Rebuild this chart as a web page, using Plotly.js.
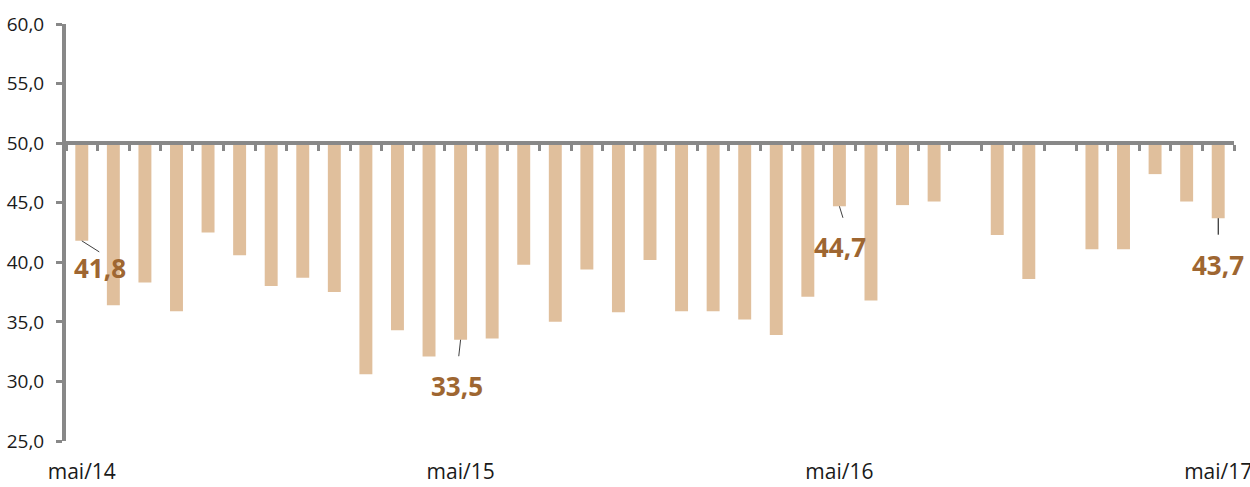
<!DOCTYPE html>
<html>
<head>
<meta charset="utf-8">
<script src="https://cdn.plot.ly/plotly-3.0.1.min.js"></script>
<style>html,body{margin:0;padding:0;background:#fff;}#chart{width:1250px;height:487px;}</style>
</head>
<body>
<div id="chart"></div>
<script>
// Categories (months)
const months = [
  'mai/14','jun/14','jul/14','ago/14','set/14','out/14','nov/14','dez/14',
  'jan/15','fev/15','mar/15','abr/15','mai/15','jun/15','jul/15','ago/15','set/15','out/15','nov/15','dez/15',
  'jan/16','fev/16','mar/16','abr/16','mai/16','jun/16','jul/16','ago/16','set/16','out/16','nov/16','dez/16',
  'jan/17','fev/17','mar/17','abr/17','mai/17'
];
// Index values
const values = [
  41.8, 36.4, 38.3, 35.9, 42.5, 40.6, 38.0, 38.7,
  37.5, 30.6, 34.3, 32.1, 33.5, 33.6, 39.8, 35.0, 39.4, 35.8, 40.2, 35.9,
  35.9, 35.2, 33.9, 37.1, 44.7, 36.8, 44.8, 45.1, null, 42.3, 38.6, null,
  41.1, 41.1, 47.4, 45.1, 43.7
];
const baseline = 50;
// Bottom axis labels
const labelMonths = ['mai/14','mai/15','mai/16','mai/17'];
// Highlighted values
const highlighted = ['mai/14','mai/15','mai/16','mai/17'];

const yRange = [25, 60];
const basePos = (baseline - yRange[0]) / (yRange[1] - yRange[0]);

const barTrace = {
  type: 'bar',
  x: months,
  y: values.map(v => v === null ? null : v - baseline),
  base: baseline,
  marker: {color: '#E0BF9C'},
  hoverinfo: 'skip',
  showlegend: false
};
const labelTrace = {
  type: 'scatter', mode: 'markers',
  x: labelMonths.map(m => months.indexOf(m)),
  y: labelMonths.map(() => null),
  xaxis: 'x2', yaxis: 'y',
  showlegend: false, hoverinfo: 'skip'
};

// leader line end offsets (px) and label offsets (px)
const leaderStyle = [
  {ax: 19, ay: 12, color: '#404040'},
  {ax: -2, ay: 18, color: '#404040'},
  {ax: 4, ay: 13, color: '#404040'},
  {ax: 0, ay: 18, color: '#000000'}
];
const labelShift = [
  {dx: 18, dy: -27},
  {dx: -4, dy: -46},
  {dx: 1, dy: -41},
  {dx: 0, dy: -47}
];
const annotations = [];
highlighted.forEach((m, i) => {
  const v = values[months.indexOf(m)];
  annotations.push({
    x: m, y: v, xref: 'x', yref: 'y',
    text: '', showarrow: true, arrowhead: 0, arrowwidth: 1,
    arrowcolor: leaderStyle[i].color,
    ax: leaderStyle[i].ax, ay: leaderStyle[i].ay, standoff: 0,
    font: {size: 1}
  });
  annotations.push({
    x: m, y: v, xref: 'x', yref: 'y',
    text: v.toFixed(1).replace('.', ','),
    showarrow: false,
    xshift: labelShift[i].dx, yshift: labelShift[i].dy,
    font: {family: 'Open Sans, sans-serif', size: 26, color: '#9E6631', weight: 700}
  });
});

const layout = {
  width: 1250, height: 487,
  margin: {l: 66, r: 16, t: 24, b: 46},
  paper_bgcolor: '#fff', plot_bgcolor: '#fff',
  separators: ',.',
  bargap: 0.59,
  font: {family: 'Open Sans, sans-serif', color: '#1a1a1a'},
  xaxis: {
    type: 'category',
    range: [-0.5, months.length - 0.5],
    anchor: 'free', position: basePos,
    showline: true, linecolor: '#888', linewidth: 4,
    ticks: 'outside', tickson: 'boundaries', ticklen: 6, tickwidth: 3, tickcolor: '#888',
    showticklabels: false, showgrid: false, zeroline: false, fixedrange: true
  },
  xaxis2: {
    overlaying: 'x', anchor: 'y', side: 'bottom',
    range: [-0.5, months.length - 0.5],
    tickmode: 'array',
    tickvals: labelMonths.map(m => months.indexOf(m)),
    ticktext: labelMonths,
    ticks: '', showline: false, showgrid: false, zeroline: false,
    ticklabelstandoff: 16,
    ticklabeloverflow: 'allow',
    tickfont: {family: 'Open Sans, sans-serif', size: 21, color: '#1a1a1a'}
  },
  yaxis: {
    range: yRange, dtick: 5, tick0: 25, tickformat: '.1f',
    showline: true, linecolor: '#888', linewidth: 4,
    ticks: 'outside', ticklen: 6, tickwidth: 3, tickcolor: '#888',
    ticklabelstandoff: 8,
    showgrid: false, zeroline: false,
    tickfont: {family: 'Open Sans, sans-serif', size: 19, color: '#1a1a1a'}
  },
  annotations: annotations
};

Plotly.newPlot('chart', [barTrace, labelTrace], layout, {displayModeBar: false, staticPlot: true});
</script>
</body>
</html>
